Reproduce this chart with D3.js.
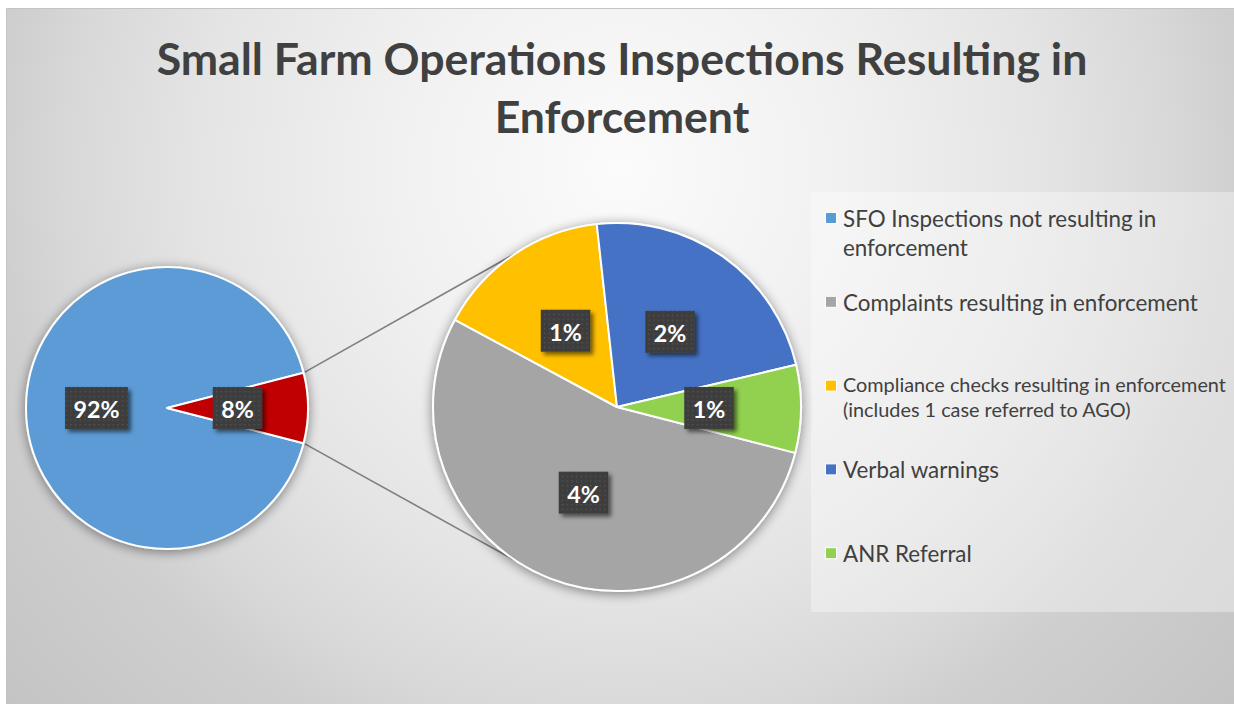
<!DOCTYPE html>
<html><head><meta charset="utf-8">
<script src="https://cdn.jsdelivr.net/npm/d3@7"></script>
<style>body{margin:0;background:#fff;} svg{display:block;}</style>
</head><body>
<svg id="chart" width="1234" height="704"></svg>
<script>
// ---------- data ----------
const titleLines = ["Small Farm Operations Inspections Resulting in", "Enforcement"];
const categories = [
  "SFO Inspections not resulting in enforcement",
  "Complaints resulting in enforcement",
  "Compliance checks resulting in enforcement (includes 1 case referred to AGO)",
  "Verbal warnings",
  "ANR Referral"
];
const counts = [149, 7, 2, 3, 1];
const colors = ["#5B9BD5", "#A5A5A5", "#FFC000", "#4472C4", "#92D050"];
const otherColor = "#C00000";
const legendLines = [
  ["SFO Inspections not resulting in", "enforcement"],
  ["Complaints resulting in enforcement"],
  ["Compliance checks resulting in enforcement", "(includes 1 case referred to AGO)"],
  ["Verbal warnings"],
  ["ANR Referral"]
];
const legendSmall = [false, false, true, false, false];

// ---------- setup ----------
const svg = d3.select("#chart");
const FONT = "Lato, 'Open Sans', sans-serif";
const total = d3.sum(counts);
const otherValue = d3.sum(counts.slice(1));
const pct = v => Math.round(v / total * 100) + "%";

function fitSize(text, weight, target) {
  const t = svg.append("text").attr("font-family", FONT).attr("font-weight", weight)
    .attr("font-size", 100).text(text);
  const w = t.node().getComputedTextLength();
  t.remove();
  return 100 * target / w;
}

const defs = svg.append("defs");
const bg = defs.append("radialGradient").attr("id", "bg")
  .attr("gradientUnits", "userSpaceOnUse").attr("cx", 620).attr("cy", 170).attr("r", 850);
[[0, "#fbfbfb"], [0.26, "#f1f1f1"], [0.5, "#e4e4e4"], [0.65, "#d8d8d8"], [0.73, "#cfcfcf"], [1, "#c2c2c2"]]
  .forEach(([o, c]) => bg.append("stop").attr("offset", o).attr("stop-color", c));

const ps = defs.append("filter").attr("id", "pieShadow")
  .attr("x", "-20%").attr("y", "-20%").attr("width", "140%").attr("height", "140%");
ps.append("feGaussianBlur").attr("in", "SourceAlpha").attr("stdDeviation", 6);
ps.append("feOffset").attr("dx", 0).attr("dy", 2);
ps.append("feComponentTransfer").append("feFuncA").attr("type", "linear").attr("slope", 0.45);
const pm = ps.append("feMerge"); pm.append("feMergeNode"); pm.append("feMergeNode").attr("in", "SourceGraphic");

const ls = defs.append("filter").attr("id", "lblShadow")
  .attr("x", "-30%").attr("y", "-30%").attr("width", "160%").attr("height", "160%");
ls.append("feGaussianBlur").attr("in", "SourceAlpha").attr("stdDeviation", 2);
ls.append("feOffset").attr("dx", 3).attr("dy", 3);
ls.append("feComponentTransfer").append("feFuncA").attr("type", "linear").attr("slope", 0.55);
const lm = ls.append("feMerge"); lm.append("feMergeNode"); lm.append("feMergeNode").attr("in", "SourceGraphic");

const pat = defs.append("pattern").attr("id", "dots").attr("patternUnits", "userSpaceOnUse")
  .attr("width", 4.7).attr("height", 4.7);
pat.append("rect").attr("width", 4.7).attr("height", 4.7).attr("fill", "#3e3e3e");
pat.append("rect").attr("x", 2).attr("y", 2).attr("width", 1.1).attr("height", 1.1).attr("fill", "#5c5c5c");

// background
svg.append("rect").attr("x", 6.5).attr("y", 8.5).attr("width", 1240).attr("height", 700)
  .attr("fill", "url(#bg)").attr("stroke", "#c4c4c4").attr("stroke-width", 1);

// title
const titleSize = fitSize(titleLines[0], 700, 931);
svg.selectAll("text.title").data(titleLines).join("text").attr("class", "title")
  .attr("x", 622).attr("y", (d, i) => 75 + i * 58)
  .attr("text-anchor", "middle").attr("font-family", FONT).attr("font-weight", 700)
  .attr("font-size", titleSize).attr("fill", "#404040").text(d => d);

// legend box
svg.append("rect").attr("x", 811).attr("y", 192).attr("width", 430).attr("height", 420)
  .attr("fill", "#ffffff").attr("fill-opacity", 0.35);

// ---------- pies ----------
const P = {cx: 167, cy: 408, r: 141};
const S = {cx: 617, cy: 407, r: 184};
const otherAngle = 2 * Math.PI * otherValue / total;
const start = Math.PI / 2 + otherAngle / 2;

const primaryData = [{v: counts[0], c: colors[0]}, {v: otherValue, c: otherColor}];
const primaryArcs = d3.pie().sort(null).value(d => d.v).startAngle(start).endAngle(start + 2 * Math.PI)(primaryData);
const secondaryData = counts.slice(1).map((v, i) => ({v, c: colors[i + 1]}));
const secondaryArcs = d3.pie().sort(null).value(d => d.v).startAngle(start).endAngle(start + 2 * Math.PI)(secondaryData);

// connector lines
const cornerUp = [P.cx + P.r * Math.sin(Math.PI / 2 - otherAngle / 2), P.cy - P.r * Math.cos(Math.PI / 2 - otherAngle / 2)];
const cornerDn = [P.cx + P.r * Math.sin(Math.PI / 2 + otherAngle / 2), P.cy - P.r * Math.cos(Math.PI / 2 + otherAngle / 2)];
const spread = 57 * Math.PI / 180;
const aUp = 1.5 * Math.PI + spread, aDn = 1.5 * Math.PI - spread;
const endUp = [S.cx + S.r * Math.sin(aUp), S.cy - S.r * Math.cos(aUp)];
const endDn = [S.cx + S.r * Math.sin(aDn), S.cy - S.r * Math.cos(aDn)];
svg.selectAll("line.conn").data([[cornerUp, endUp], [cornerDn, endDn]]).join("line")
  .attr("class", "conn")
  .attr("x1", d => d[0][0]).attr("y1", d => d[0][1]).attr("x2", d => d[1][0]).attr("y2", d => d[1][1])
  .attr("stroke", "#7f7f7f").attr("stroke-width", 1.6);

function drawPie(arcs, C) {
  const arc = d3.arc().innerRadius(0).outerRadius(C.r);
  const g = svg.append("g").attr("transform", `translate(${C.cx},${C.cy})`);
  g.append("g").attr("filter", "url(#pieShadow)")
    .selectAll("path").data(arcs).join("path")
    .attr("d", arc).attr("fill", d => d.data.c)
    .attr("stroke", "#ffffff").attr("stroke-width", 2).attr("stroke-linejoin", "round");
  return {g, arc};
}
const pg = drawPie(primaryArcs, P);
const sg = drawPie(secondaryArcs, S);

// data labels
const lblSize = fitSize("92%", 700, 46);
function drawLabels(obj, arcs) {
  arcs.forEach(d => {
    const [x, y] = obj.arc.centroid(d);
    const txt = pct(d.data.v);
    const g = obj.g.append("g").attr("transform", `translate(${x},${y})`);
    const rect = g.append("rect").attr("fill", "url(#dots)").attr("filter", "url(#lblShadow)");
    const t = g.append("text").attr("text-anchor", "middle").attr("dominant-baseline", "central")
      .attr("y", 1).attr("font-family", FONT).attr("font-weight", 700)
      .attr("font-size", lblSize).attr("fill", "#ffffff").text(txt);
    const w = t.node().getComputedTextLength() + 17;
    rect.attr("x", -w / 2).attr("y", -21).attr("width", w).attr("height", 42);
  });
}
drawLabels(pg, primaryArcs);
drawLabels(sg, secondaryArcs);

// ---------- legend ----------
const bigSize = fitSize("Complaints resulting in enforcement", 400, 355);
const smallSize = fitSize("Compliance checks resulting in enforcement", 400, 383);
const legendColors = colors;
const items = svg.selectAll("g.leg").data(legendLines).join("g").attr("class", "leg")
  .attr("transform", (d, i) => `translate(825, ${218 + i * 83.8})`);
items.append("rect").attr("x", 0.5).attr("y", -5.5).attr("width", 11).attr("height", 11)
  .attr("fill", (d, i) => legendColors[i]).attr("stroke", "#ffffff").attr("stroke-width", 1);
items.each(function(lines, i) {
  const small = legendSmall[i];
  const fs = small ? smallSize : bigSize;
  const lh = small ? 25 : 29;
  const off = small ? 6 : 9;
  d3.select(this).selectAll("text").data(lines).join("text")
    .attr("x", 18).attr("y", (d, j) => off + j * lh)
    .attr("font-family", FONT).attr("font-size", fs).attr("fill", "#404040").text(d => d);
});
</script>
</body></html>
